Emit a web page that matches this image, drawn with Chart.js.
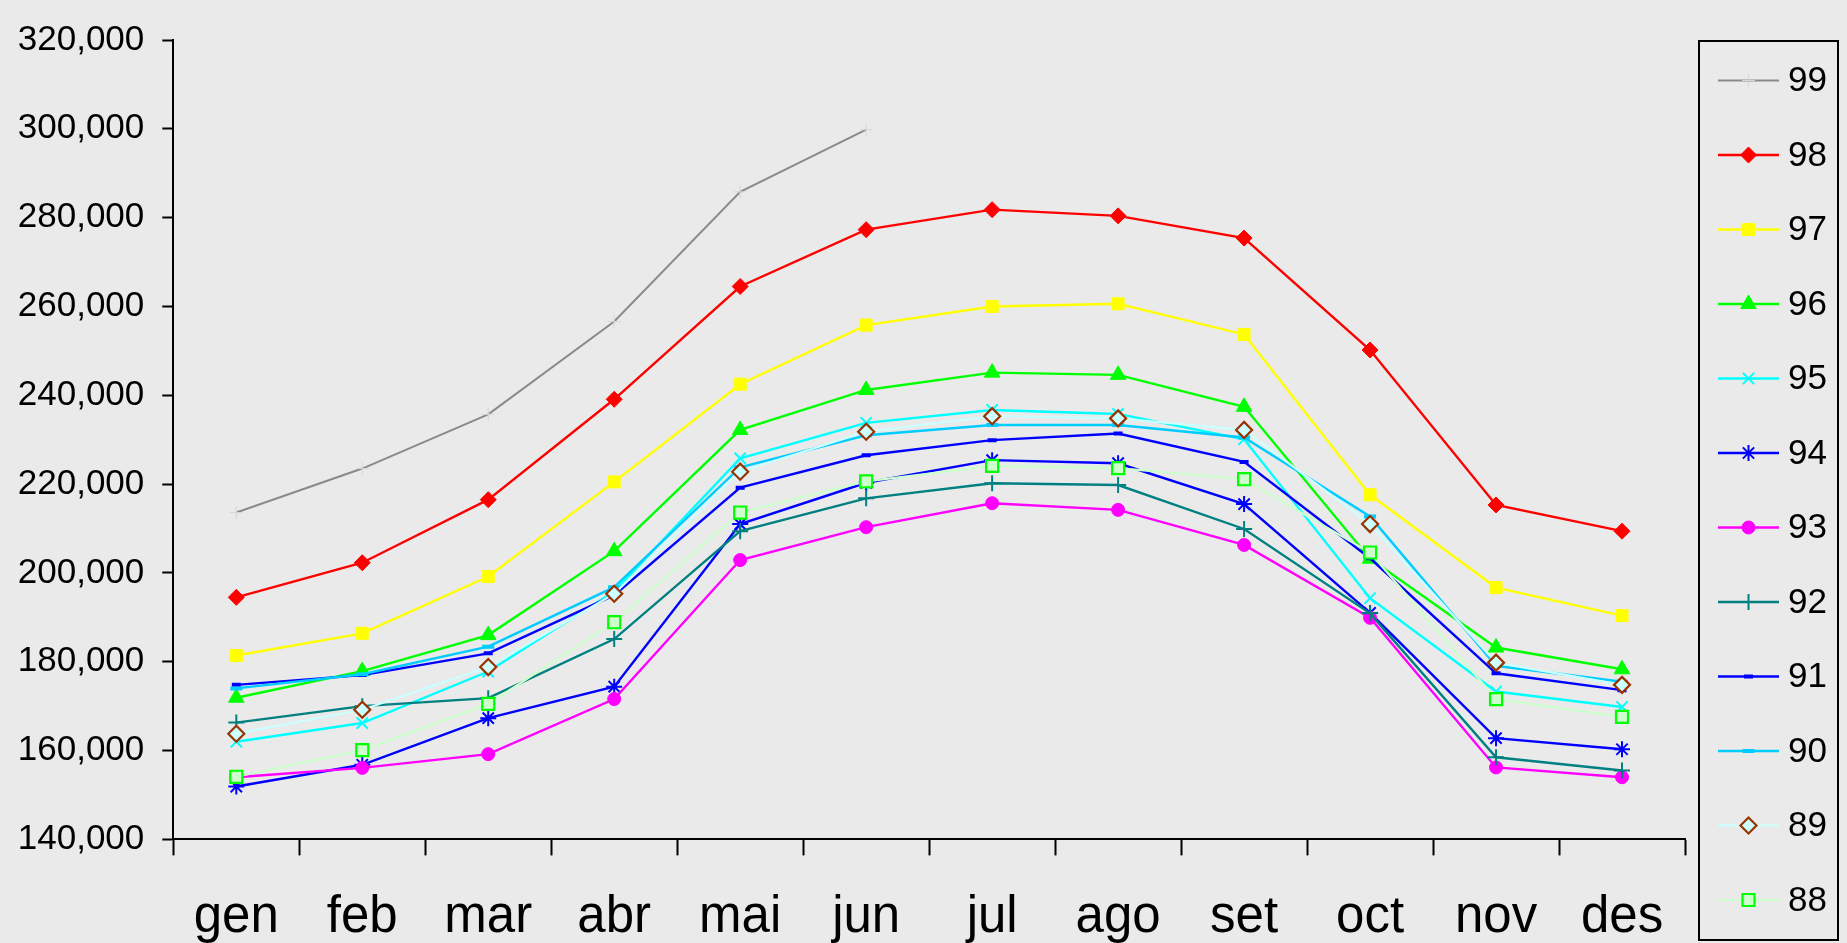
<!DOCTYPE html>
<html>
<head>
<meta charset="utf-8">
<script src="https://cdn.jsdelivr.net/npm/chart.js@4.4.1/dist/chart.umd.min.js"></script>
<style>
  html,body{margin:0;padding:0;background:#eaeaea;}
  #wrap{width:1847px;height:943px;}
</style>
</head>
<body>
<div id="wrap"><canvas id="chart" width="1847" height="943"></canvas></div>
<script>
// mesos
const MESOS = ["gen","feb","mar","abr","mai","jun","jul","ago","set","oct","nov","des"];
const ANYS = ["99","98","97","96","95","94","93","92","91","90","89","88"];

// valors per any (llegits del gràfic)
const S99 = [213600,223500,235700,256600,285800,299800,null,null,null,null,null,null];
const S98 = [194500,202300,216500,239100,264500,277300,281800,280400,275400,250200,215300,209400];
const S97 = [181400,186400,199200,220500,242500,255800,260000,260600,253700,217600,196700,190400];
const S96 = [171900,177900,186000,204900,232200,241200,245100,244600,237400,203200,183200,178300];
const S95 = [162000,166200,177800,195800,225800,233800,236700,235800,230100,194300,173300,169800];
const S94 = [151900,156800,167300,174400,211000,220300,225400,224700,215500,191000,162800,160300];
const S93 = [154000,156100,159200,171600,202900,210300,215700,214200,206300,189900,156200,154000];
const S92 = [166300,170000,171800,185100,209400,216800,220200,219800,209900,190900,158500,155500];
const S91 = [174800,177000,181900,195000,219200,226500,229900,231400,225000,203300,177400,173600];
const S90 = [174000,177200,183400,196800,223800,231000,233300,233300,230500,212700,179100,175500];
const S89 = [163800,169200,178800,195300,222800,231800,235300,234800,232200,211000,179800,174800];
const S88 = [154100,160100,170500,188900,213600,220600,224100,223600,221100,204600,171600,167600];

const Y_MIN = 140000, Y_MAX = 320000, Y_STEP = 20000;

const SERIES = [S99,S98,S97,S96,S95,S94,S93,S92,S91,S90,S89,S88];

// estil de cada sèrie: línia, marcador
const ESTILS = [
  {line:"#8a8a8a", w:2,   pt:"cross",   r:6.5,pc:"#d6d6d6", pf:"#d6d6d6", pw:1},
  {line:"#ff0000", w:2.4, pt:"rectRot", r:8,  pc:"#ff0000", pf:"#ff0000", pw:1},
  {line:"#ffff00", w:2.4, pt:"rect",    r:8.5,pc:"#ffff00", pf:"#ffff00", pw:1},
  {line:"#00ff00", w:2.4, pt:"triangle",r:9,  pc:"#00ff00", pf:"#00ff00", pw:1},
  {line:"#00ffff", w:2.4, pt:"crossRot",r:8,  pc:"#00ffff", pf:"#00ffff", pw:2},
  {line:"#0000ff", w:2.4, pt:"star",    r:8,  pc:"#0000ff", pf:"#0000ff", pw:2},
  {line:"#ff00ff", w:2.4, pt:"circle",  r:6.5,pc:"#ff00ff", pf:"#ff00ff", pw:1},
  {line:"#008080", w:2.4, pt:"cross",   r:8,  pc:"#008080", pf:"#008080", pw:2},
  {line:"#0000ff", w:2.4, pt:"line",    r:4.5,pc:"#0000ff", pf:"#0000ff", pw:4},
  {line:"#00ccff", w:2.4, pt:"line",    r:6,  pc:"#00ccff", pf:"#00ccff", pw:4},
  {line:"#ccffff", w:2.2, pt:"rectRot", r:8,  pc:"#993300", pf:"#ccffff", pw:2.2},
  {line:"#ccffcc", w:2.2, pt:"rect",    r:8.5,pc:"#00ff00", pf:"#ccffcc", pw:2.2},
];

const FONT = "'Liberation Sans', Arial, sans-serif";

const datasets = SERIES.map((d,i)=>{
  const e = ESTILS[i];
  return {
    label: ANYS[i],
    data: d,
    borderColor: e.line,
    borderWidth: e.w,
    backgroundColor: e.line,
    pointStyle: e.pt,
    pointRadius: e.r,
    pointHoverRadius: e.r,
    pointBorderColor: e.pc,
    pointBackgroundColor: e.pf,
    pointBorderWidth: e.pw,
    tension: 0,
    spanGaps: false,
    order: SERIES.length - 1 - i,
  };
});

// llegenda amb marc, com l'original
const llegenda = {
  id: "llegenda",
  afterDraw(chart) {
    const ctx = chart.ctx;
    const H = Chart.helpers;
    ctx.save();
    ctx.strokeStyle = "#000";
    ctx.lineWidth = 2;
    ctx.strokeRect(1699, 41, 139, 899);
    chart.data.datasets.forEach((ds,i)=>{
      const e = ESTILS[i];
      const y = 80.5 + i*74.5;
      ctx.beginPath();
      ctx.strokeStyle = e.line;
      ctx.lineWidth = e.w;
      ctx.moveTo(1718, y); ctx.lineTo(1779, y);
      ctx.stroke();
      ctx.strokeStyle = e.pc;
      ctx.fillStyle = e.pf;
      ctx.lineWidth = e.pw;
      H.drawPoint(ctx, {pointStyle:e.pt, radius:e.r, rotation:0, borderWidth:e.pw}, 1748.5, y);
      ctx.fillStyle = "#000";
      ctx.font = "35px " + FONT;
      ctx.textBaseline = "middle";
      ctx.textAlign = "left";
      ctx.fillText(ds.label, 1788, y + 1);
    });
    ctx.restore();
  }
};

new Chart(document.getElementById("chart"), {
  type: "line",
  data: { labels: MESOS, datasets },
  plugins: [llegenda],
  options: {
    responsive: false,
    devicePixelRatio: 1,
    animation: false,
    layout: { padding: { left: 0, top: 40, right: 162, bottom: 0 } },
    plugins: { legend: { display: false }, tooltip: { enabled: false } },
    scales: {
      x: {
        type: "category",
        offset: true,
        grid: { offset: true, drawOnChartArea: false, tickLength: 16, tickColor: "#000", tickWidth: 2 },
        border: { color: "#000", width: 2 },
        ticks: { color: "#000", font: { family: FONT, size: 51 }, padding: 32, maxRotation: 0 },
        afterFit(s) { s.height = 103.6; }
      },
      y: {
        min: Y_MIN, max: Y_MAX,
        grid: { drawOnChartArea: false, tickLength: 11, tickColor: "#000", tickWidth: 2 },
        border: { color: "#000", width: 2 },
        ticks: {
          stepSize: Y_STEP, color: "#000", padding: 18,
          font: { family: FONT, size: 35 },
          callback: v => v.toLocaleString("en-US")
        },
        afterFit(s) { s.width = 173.3; }
      }
    }
  }
});
</script>
</body>
</html>
